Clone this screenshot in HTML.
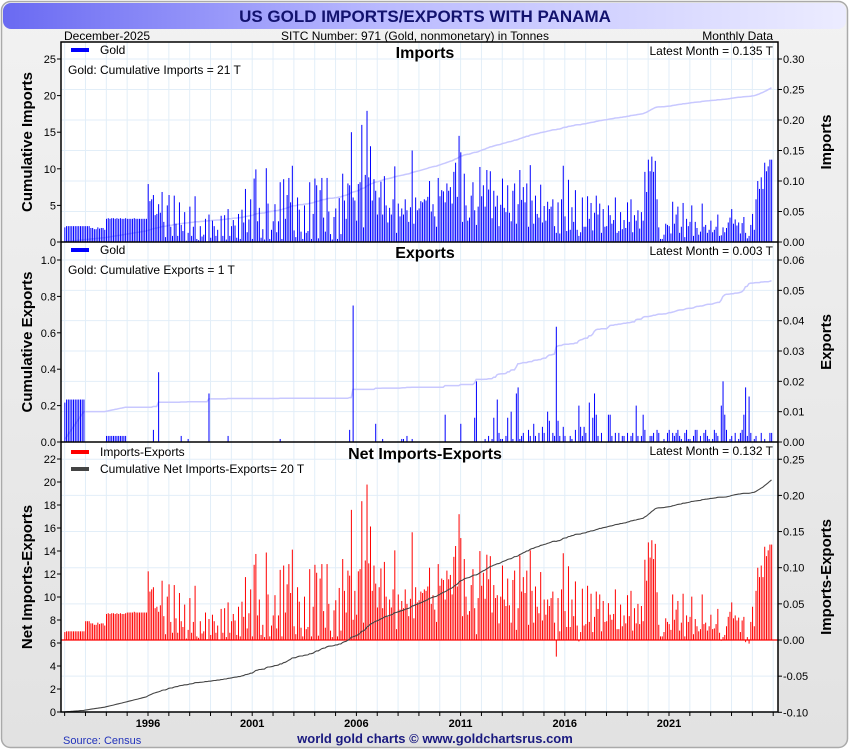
<!DOCTYPE html>
<html><head><meta charset="utf-8"><style>
html,body{margin:0;padding:0;background:#fff;}
svg{display:block;font-family:"Liberation Sans",sans-serif;}
</style></head><body>
<svg id="chart" width="850" height="750" viewBox="0 0 850 750">
<defs>
<linearGradient id="tg" x1="0" x2="1" y1="0" y2="0"><stop offset="0" stop-color="#6a6af2"/><stop offset="0.45" stop-color="#babaff"/><stop offset="1" stop-color="#ececff"/></linearGradient>
<linearGradient id="bg" x1="0" x2="0" y1="0" y2="1"><stop offset="0" stop-color="#f2f2f2"/><stop offset="1" stop-color="#e2e2e2"/></linearGradient>
</defs>
<rect x="1.5" y="1.5" width="846" height="746" rx="9" fill="url(#bg)" stroke="#aaa" stroke-width="1.5"/>
<rect x="3" y="3" width="843" height="26" rx="8" fill="url(#tg)"/>
<text x="425" y="22" text-anchor="middle" font-size="17" font-weight="bold" fill="#12126e">US GOLD IMPORTS/EXPORTS WITH PANAMA</text>
<text x="64" y="40" font-size="12" fill="#000">December-2025</text>
<text x="415" y="40" text-anchor="middle" font-size="12" fill="#000">SITC Number: 971 (Gold, nonmonetary) in Tonnes</text>
<text x="773" y="40" text-anchor="end" font-size="12" fill="#000">Monthly Data</text>
<rect x="61" y="42" width="717" height="670" fill="#fff"/>
<g id="layer"></g>
<text x="63" y="744" font-size="11" fill="#2233bb">Source: Census</text>
<text x="435" y="743" text-anchor="middle" font-size="13" font-weight="bold" fill="#1a1a80">world gold charts © www.goldchartsrus.com</text>
</svg>
<script>
// monthly imports in hundredths of a tonne, Jan 1992 .. Dec 2025
const importsHundredths = [
2.4,2.6,2.6,2.6,2.6,2.6,2.6,2.6,2.6,2.6,2.6,2.6,
2.6,2.6,2.6,2.3,2.3,2.1,2.1,2.4,2.2,2.3,2.3,2.0,
3.8,3.9,3.8,3.9,3.9,3.8,3.9,3.8,3.9,3.8,3.8,3.9,
3.8,3.8,3.8,3.8,3.9,3.8,3.8,3.8,3.8,3.8,3.8,3.8,
9.5,6.7,7.0,7.7,4.4,4.6,6.2,4.8,8.2,3.3,0.8,6.0,
7.7,2.5,1.0,7.6,3.0,1.0,6.5,2.8,1.8,4.9,0.2,1.5,
5.8,1.0,2.5,7.5,0.5,0.3,2.6,0.9,1.2,3.8,0.1,4.5,
0.7,3.5,2.6,1.0,2.0,0.0,4.3,1.0,4.4,0.4,5.4,1.0,
2.6,3.6,2.7,0.7,4.6,0.5,5.3,3.2,8.7,1.6,3.7,7.0,
0.5,10.4,11.9,3.4,5.6,0.7,2.1,0.4,12.1,6.3,0.5,2.0,
3.4,6.2,1.6,3.4,9.8,0.5,10.3,3.8,7.7,10.5,6.5,12.5,
1.9,0.8,7.3,5.3,1.7,0.5,6.0,1.5,1.8,9.8,0.5,4.6,
10.4,9.3,0.6,8.5,10.5,4.0,1.7,10.5,5.0,1.3,0.4,4.1,
5.5,0.5,7.2,1.3,11.2,6.8,3.8,9.6,9.3,18.0,7.3,6.8,
3.5,9.5,9.8,19.2,2.4,11.0,21.5,10.6,15.7,6.8,10.3,8.4,
4.5,7.3,9.9,4.5,10.8,6.0,3.2,5.6,4.5,7.0,12.4,1.5,
6.3,4.2,5.5,4.5,7.0,5.2,3.3,5.7,15.0,3.0,7.3,5.2,
5.5,6.7,6.5,7.0,6.8,7.4,10.0,5.0,6.2,4.2,2.5,10.5,
7.5,8.5,8.3,6.5,9.6,8.4,9.0,6.3,11.5,13.0,7.4,17.4,
14.7,3.3,11.2,6.0,3.5,4.0,7.6,9.8,5.2,2.8,5.8,12.3,
7.5,9.3,5.8,11.8,8.6,11.6,3.9,8.4,5.8,7.6,2.6,6.1,
10.4,5.6,4.9,9.3,4.8,3.4,8.4,9.6,3.0,6.2,11.8,6.9,
9.0,6.5,9.6,2.5,12.6,6.8,3.0,7.6,4.6,4.0,9.4,3.2,
5.9,3.5,6.6,5.4,5.8,7.0,2.6,1.5,6.5,1.4,7.0,12.5,
4.2,1.8,10.2,2.0,5.7,3.3,8.5,2.0,1.0,1.6,7.3,2.5,
2.5,7.5,3.8,6.4,1.9,4.8,7.6,4.5,6.3,1.5,5.4,2.5,
2.6,6.0,4.4,3.0,3.6,7.3,1.5,1.8,4.9,2.1,3.6,2.3,
6.5,3.3,7.0,1.6,4.4,3.5,5.2,2.2,4.9,3.5,11.5,8.2,
13.5,11.6,14.0,11.5,13.3,7.0,2.4,0.5,0.5,1.2,3.0,2.8,
2.6,1.4,6.6,3.0,4.5,5.8,1.5,2.5,6.4,0.8,3.8,2.6,
3.3,6.0,1.0,3.3,2.3,1.2,1.7,6.3,2.5,2.8,1.5,2.0,
3.5,1.6,2.0,2.5,4.5,1.0,1.1,2.4,1.6,2.3,3.2,4.0,
5.4,3.0,3.7,2.7,3.2,1.4,3.1,4.1,1.5,0.6,1.0,2.8,
4.6,2.0,7.0,10.0,8.7,10.6,8.7,13.0,11.6,12.4,13.5,13.5
];
// monthly exports in thousandths of a tonne
const exportsThousandths = [
13,14,14,14,14,14,14,14,14,14,14,14,
0,0,0,0,0,0,0,0,0,0,0,0,
2,2,2,2,2,2,2,2,2,2,2,2,
0,0,0,0,0,0,0,0,0,0,0,0,
0,0,0,4,0,0,23,0,0,0,0,0,
0,0,0,0,0,0,0,2,0,0,0,1,
0,0,0,0,0,0,0,0,0,0,0,16,
0,0,0,0,0,0,0,0,0,0,2,0,
0,0,0,0,0,0,0,0,0,0,0,0,
0,0,0,0,0,0,0,0,0,0,0,0,
0,0,0,0,1,0,0,0,0,0,0,0,
0,0,0,0,0,0,0,0,0,0,0,0,
0,0,0,0,0,0,0,0,0,0,0,0,
0,0,0,0,0,0,0,0,4,0,45,0,
0,0,0,0,0,0,0,0,0,0,0,6,
0,0,0,1,0,0,0,0,0,0,0,0,
0,0,1,1,0,2,0,0,1,0,0,0,
0,0,0,0,0,0,0,0,0,0,0,0,
0,0,0,9,0,0,0,0,0,0,0,0,
6,0,0,0,0,0,0,0,8,20,0,0,
0,0,1,0,2,0,1,8,0,14,3,1,
1,0,2,8,0,10,1,0,16,18,1,2,
3,0,0,4,2,0,6,2,0,3,0,5,
3,0,10,7,0,3,2,38,7,2,0,5,
2,0,0,2,1,0,4,0,12,5,2,5,
3,0,13,0,8,16,9,2,0,3,0,0,
0,9,9,2,0,3,0,3,0,2,2,0,
3,0,2,3,0,12,2,0,2,9,4,0,
0,2,2,3,0,4,3,0,0,1,0,3,
4,0,3,2,3,4,2,1,0,3,4,1,
1,0,2,4,4,0,2,0,3,4,2,1,
0,1,4,3,2,0,12,20,9,4,0,1,
2,0,3,0,1,3,4,9,18,2,15,3,
0,1,2,0,0,3,0,1,0,0,3,3
];
const startYear = 1992;
const yearLabels = ["1996","2001","2006","2011","2016","2021"];
const impLeftTicks = [0,5,10,15,20,25];
const impRightTicks = ["0.00","0.05","0.10","0.15","0.20","0.25","0.30"];
const expLeftTicks = ["0.0","0.2","0.4","0.6","0.8","1.0"];
const expRightTicks = ["0.00","0.01","0.02","0.03","0.04","0.05","0.06"];
const netLeftTicks = [0,2,4,6,8,10,12,14,16,18,20,22];
const netRightTicks = ["-0.10","-0.05","0.00","0.05","0.10","0.15","0.20","0.25"];

const NS = "http://www.w3.org/2000/svg";
const layer = document.getElementById('layer');
const X0 = 61, X1 = 778;
function xOf(t){ return 148 + (t - 1996) * 20.84; }
function mk(tag, attrs, parent){
  const e = document.createElementNS(NS, tag);
  for (const k in attrs) e.setAttribute(k, attrs[k]);
  (parent || layer).appendChild(e);
  return e;
}
const imports = importsHundredths.map(v => v / 100);
const exportsT = exportsThousandths.map(v => v / 1000);
const net = imports.map((v, i) => v - (exportsT[i] || 0));
function cum(a){ let s = 0; return a.map(v => (s += v)); }
const cumImp = cum(imports), cumExp = cum(exportsT), cumNet = cum(net);

const panels = [
  {name:'imports', top:42, bot:242, yR:t=>242 - t*610, yL:v=>242 - v*7.32,
   rTicks:impRightTicks, lTicks:impLeftTicks, lTitle:'Cumulative Imports', rTitle:'Imports'},
  {name:'exports', top:242, bot:442, yR:t=>442 - t*3033, yL:v=>442 - v*182,
   rTicks:expRightTicks, lTicks:expLeftTicks, lTitle:'Cumulative Exports', rTitle:'Exports'},
  {name:'net', top:442, bot:712, yR:t=>640 - t*723, yL:v=>712 - v*11.5,
   rTicks:netRightTicks, lTicks:netLeftTicks, lTitle:'Net Imports-Exports', rTitle:'Imports-Exports'}
];

panels.forEach(p => {
  const g = mk('g', {});
  
  
  for (let y = 1992; y <= 2026; y++) {
    const x = xOf(y);
    if (x < X0 || x > X1) continue;
    const l = mk('line', {x1:x, x2:x, y1:p.top, y2:p.bot, stroke:'#e2eef8', 'stroke-width':1}, g);
    
    
  }
  p.rTicks.forEach(s => {
    const y = p.yR(parseFloat(s));
    const l = mk('line', {x1:X0, x2:X1, y1:y, y2:y, stroke:'#e2eef8', 'stroke-width':1}, g);
    
    
    mk('line', {x1:X1, x2:X1+4, y1:y, y2:y, stroke:'#000'}, g);
    const t = mk('text', {x:783, y:y+4, 'font-size':11, fill:'#000'}, g);
    t.textContent = s;
    
    
  });
  p.lTicks.forEach(s => {
    const y = p.yL(parseFloat(s));
    mk('line', {x1:X0-4, x2:X0, y1:y, y2:y, stroke:'#000'}, g);
    const t = mk('text', {x:56, y:y+4, 'font-size':11, fill:'#000', 'text-anchor':'end'}, g);
    t.textContent = s;
    
    
  });
  const cy = (p.top + p.bot) / 2;
  const lt = mk('text', {x:0, y:0, 'font-size':15, 'font-weight':'bold', 'text-anchor':'middle', transform:`translate(32,${cy}) rotate(-90)`}, g);
  lt.textContent = p.lTitle;
  
  
  const rt = mk('text', {x:0, y:0, 'font-size':15, 'font-weight':'bold', 'text-anchor':'middle', transform:`translate(831,${cy}) rotate(-90)`}, g);
  rt.textContent = p.rTitle;
  
  
});

function bars(vals, p, color, nm){
  const g = mk('g', {});
  
  
  const y0 = p.yR(0);
  vals.forEach((v, i) => {
    if (!v) return;
    const x = xOf(startYear + i/12) - 0.3;
    const y = p.yR(v);
    const r = mk('rect', {x:x, y:Math.min(y, y0), width:1.0, height:Math.max(Math.abs(y0 - y), 0.5), fill:color}, g);
    
    
  });
}
function line(vals, p, color, w, nm){
  const pts = vals.map((v, i) => xOf(startYear + i/12).toFixed(1) + ',' + p.yL(v).toFixed(1)).join(' ');
  const pl = mk('polyline', {points:pts, fill:'none', stroke:color, 'stroke-width':w});
  
  
}
line(cumImp, panels[0], '#c8c8ff', 1.5, 'cumulative-imports-line');
bars(imports, panels[0], '#0000ff', 'imports');
line(cumExp, panels[1], '#c8c8ff', 1.5, 'cumulative-exports-line');
bars(exportsT, panels[1], '#0000ff', 'exports');
bars(net, panels[2], '#ff0000', 'net');
mk('line', {x1:X0, x2:X1, y1:640, y2:640, stroke:'#ff0000', 'stroke-width':1.2});
line(cumNet, panels[2], '#444', 1.1, 'cumulative-net-line');

mk('rect', {x:X0, y:42, width:X1-X0, height:670, fill:'none', stroke:'#000', 'stroke-width':1.5});
mk('line', {x1:X0, x2:X1, y1:242, y2:242, stroke:'#000', 'stroke-width':1.5});
mk('line', {x1:X0, x2:X1, y1:442, y2:442, stroke:'#000', 'stroke-width':1.5});
for (let y = 1992; y <= 2026; y++) {
  const x = xOf(y);
  if (x < X0 || x > X1) continue;
  mk('line', {x1:x, x2:x, y1:712, y2:716, stroke:'#000'});
}
yearLabels.forEach(s => {
  const t = mk('text', {x:xOf(parseInt(s)), y:727, 'font-size':11, 'font-weight':'bold', 'text-anchor':'middle'});
  t.textContent = s;
  
  
});

const leg = [
  {y:50, color:'#0000ff', label:'Gold', nm:'imports-legend'},
  {y:250, color:'#0000ff', label:'Gold', nm:'exports-legend'},
  {y:452, color:'#ff0000', label:'Imports-Exports', nm:'net-legend'},
  {y:469, color:'#444', label:'Cumulative Net Imports-Exports= 20 T', nm:'cumulative-net-legend'}
];
leg.forEach(l => {
  const g = mk('g', {});
  
  
  mk('rect', {x:71, y:l.y-2, width:18, height:4, fill:l.color}, g);
  const t = mk('text', {x:100, y:l.y+4, 'font-size':12}, g);
  t.textContent = l.label;
});
const texts = [
  {x:68, y:74, s:'Gold: Cumulative Imports = 21 T', a:'start', nm:'cumulative-imports-note'},
  {x:68, y:274, s:'Gold: Cumulative Exports = 1 T', a:'start', nm:'cumulative-exports-note'},
  {x:773, y:55, s:'Latest Month = 0.135 T', a:'end', nm:'imports-latest'},
  {x:773, y:255, s:'Latest Month = 0.003 T', a:'end', nm:'exports-latest'},
  {x:773, y:455, s:'Latest Month = 0.132 T', a:'end', nm:'net-latest'}
];
texts.forEach(o => {
  const t = mk('text', {x:o.x, y:o.y, 'font-size':12, 'text-anchor':o.a});
  t.textContent = o.s;
  
  
});
[['Imports',58,'imports-title'],['Exports',258,'exports-title'],['Net Imports-Exports',459,'net-title']].forEach(a => {
  const t = mk('text', {x:425, y:a[1], 'font-size':16, 'font-weight':'bold', 'text-anchor':'middle'});
  t.textContent = a[0];
  
  
});
</script>
</body></html>
